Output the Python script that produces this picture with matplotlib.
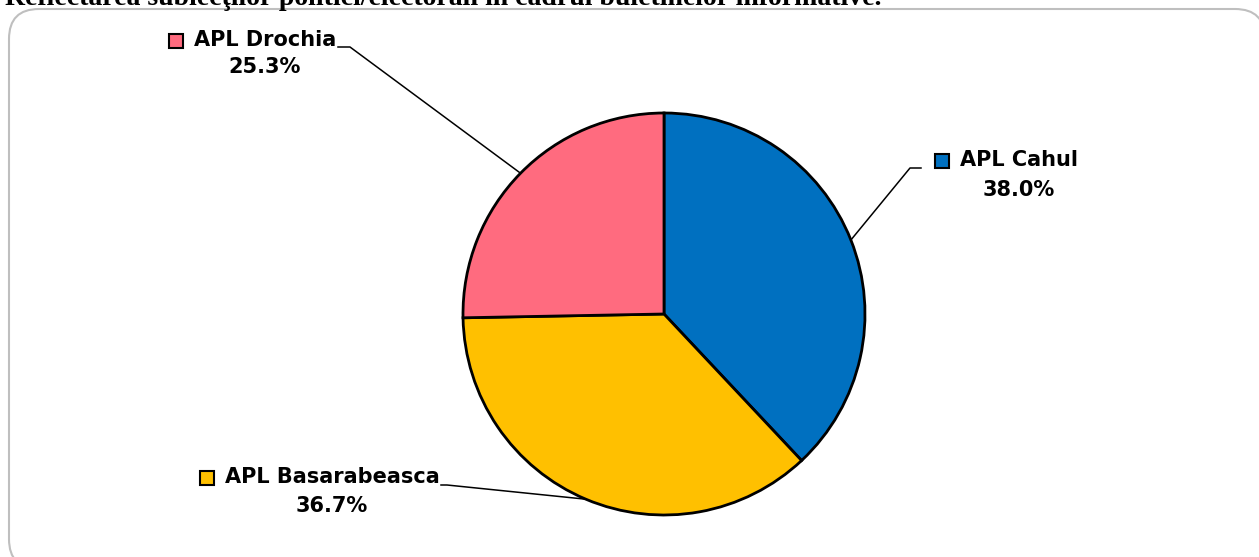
import matplotlib.pyplot as plt
import numpy as np
from matplotlib.patches import FancyBboxPatch

# data
labels = ["APL Cahul", "APL Basarabeasca", "APL Drochia"]
shares = [38.0, 36.7, 25.3]
colors = ["#0070C0", "#FFC000", "#FF6B7F"]
title = "Reflectarea subiecţilor politici/electorali în cadrul buletinelor informative."

W, H = 1259, 557
fig = plt.figure(figsize=(W / 100, H / 100), dpi=100)
ax = fig.add_axes([0, 0, 1, 1])

# rounded chart frame (top at y=9 px, runs off the right/bottom edges)
frame = FancyBboxPatch((9, -12), 1256, H - 9 + 12,
                       boxstyle="round,pad=0,rounding_size=30",
                       facecolor="white", edgecolor="#BFBFBF", lw=1.5, zorder=0)
ax.add_patch(frame)

# title, cut at the top edge as in the source
fig.text(5 / W, 1 - 5 / H, title, fontsize=20, fontweight="bold",
         family="Liberation Serif", va="baseline", ha="left")

cx, cy, r = 664, H - 314, 201
wedges, _ = ax.pie(shares, colors=colors, startangle=90, counterclock=False,
                   center=(cx, cy), radius=r, frame=True,
                   wedgeprops=dict(edgecolor="black", linewidth=2))
ax.set_xlim(0, W)
ax.set_ylim(0, H)
ax.set_aspect("equal")
ax.axis("off")

# label layout (pixel positions, y from top): text center, line gap, elbow
label_pos = [(1019, 160), (332, 477), (265, 40)]
gaps = [30, 29, 27]
elbows = [((921, 168), (910, 168)),
          ((441, 485), (447, 485)),
          ((338, 47), (350, 47))]

for w, lab, val, c, (tx, ty), gap, (p0, p1) in zip(wedges, labels, shares, colors,
                                                    label_pos, gaps, elbows):
    ang = np.deg2rad((w.theta1 + w.theta2) / 2)
    ex, ey = cx + r * np.cos(ang), cy + r * np.sin(ang)
    ax.plot([p0[0], p1[0], ex], [H - p0[1], H - p1[1], ey],
            color="black", lw=1.1, zorder=5)
    t = ax.text(tx, H - ty, lab, fontsize=15, fontweight="bold",
                ha="center", va="center", family="DejaVu Sans")
    ax.text(tx, H - ty - gap, f"{val:.1f}%", fontsize=15, fontweight="bold",
            ha="center", va="center", family="DejaVu Sans")
    fig.canvas.draw()
    bb = t.get_window_extent()
    ax.add_patch(plt.Rectangle((bb.x0 - 25, H - ty - 8), 14, 14,
                               facecolor=c, edgecolor="black", lw=1.5, zorder=6))

fig.savefig("out.png", dpi=100)
